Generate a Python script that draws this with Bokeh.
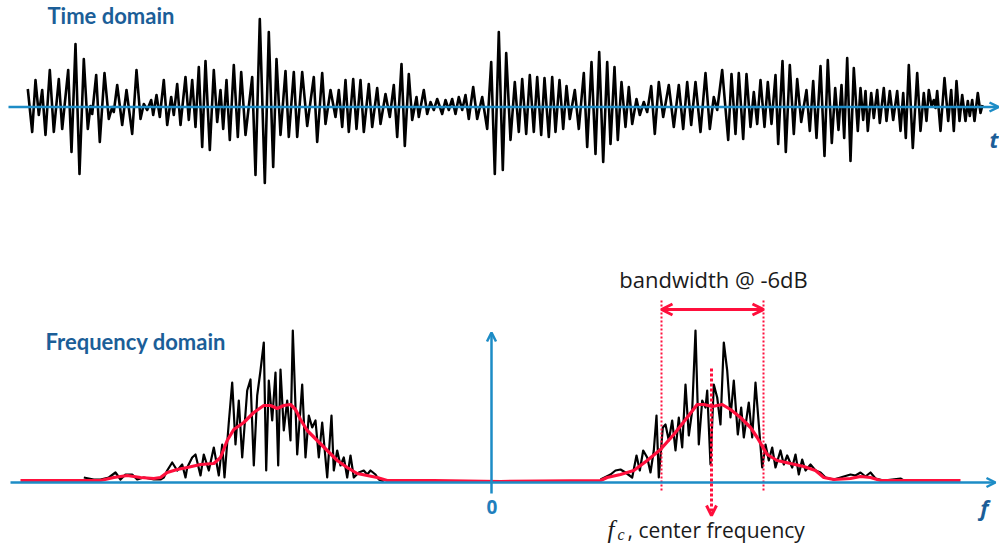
from bokeh.plotting import figure
from bokeh.layouts import column
from bokeh.models import Range1d, Arrow, OpenHead, Label
from bokeh.embed import file_html
from bokeh.resources import INLINE

# ---------------- data ----------------
# time-domain signal: successive extrema (time in a.u., amplitude in a.u.)
t_ext = [0.53, 0.97, 1.3, 1.63, 1.97, 2.3, 2.73, 3.13, 3.63, 3.97,
         4.57, 4.9, 5.3, 5.7, 6.13, 6.53, 6.8, 6.97, 7.37, 7.73,
         8.2, 8.63, 8.97, 9.13, 9.47, 9.97, 10.4, 10.97, 11.4, 11.8,
         12.13, 12.47, 12.87, 13.07, 13.4, 13.73, 14.13, 14.47, 14.87, 15.13,
         15.47, 15.8, 16.3, 16.63, 16.97, 17.3, 17.63, 17.97, 18.3, 18.73,
         19.13, 19.47, 19.8, 20.07, 20.4, 20.73, 21.13, 21.53, 21.87, 22.3,
         22.97, 23.3, 23.73, 24.23, 24.63, 25.07, 25.4, 25.8, 26.3, 26.63,
         27.13, 27.47, 27.97, 28.47, 29.13, 29.47, 29.97, 30.3, 30.8,
         31.3, 31.63, 31.97, 32.3, 32.63, 33.07, 33.4, 33.8, 34.13, 34.63,
         34.97, 35.47, 35.8, 36.3, 36.73, 37.13, 37.47, 37.9, 38.23, 38.63,
         38.97, 39.4, 39.63, 40.13, 40.47, 40.8, 41.13, 41.47, 41.97, 42.3,
         42.63, 42.97, 43.3, 43.63, 43.97, 44.3, 44.63, 45.07, 45.47, 45.97,
         46.47, 46.87, 47.23, 47.63, 48.03, 48.37, 48.8, 49.23, 49.63, 49.97,
         50.37, 50.73, 51.13, 51.47, 51.87, 52.2, 52.63, 52.97, 53.3, 53.7,
         54.07, 54.4, 54.73, 55.23, 55.63, 56.13, 56.47, 56.9, 57.3, 57.67,
         58.07, 58.47, 58.8, 59.2, 59.53, 59.9, 60.3, 60.63, 60.97, 61.4,
         61.73, 62.13, 62.47, 62.87, 63.23, 63.63, 64.07,
         64.63, 65.13, 65.63, 66.07, 66.47, 66.87, 67.3, 67.8, 68.3, 68.73,
         69.13, 69.47, 69.97, 70.57, 70.9, 71.3, 71.63, 72.07, 72.4, 72.8,
         73.13, 73.47, 73.8, 74.2, 74.53, 74.9, 75.3, 75.57, 76.0, 76.33,
         76.73, 77.13, 77.47, 77.87,
         78.4, 78.73, 79.07, 79.4, 79.8, 80.2, 80.53, 80.93, 81.27, 81.6,
         81.9, 82.17, 82.47, 82.8, 83.13, 83.53, 83.8, 84.07, 84.3, 84.53,
         84.87, 85.13, 85.47, 85.73, 86.13, 86.4, 86.73, 87.07, 87.47, 87.8,
         88.07, 88.33, 88.63, 89.03, 89.47, 89.8, 90.13, 90.4, 90.63, 90.9,
         91.13, 91.3, 91.47, 91.8, 92.2, 92.57, 92.87, 93.13, 93.4, 93.7,
         93.97, 94.3, 94.53, 94.73, 94.97, 95.2, 95.53, 95.8, 96.0]
a_ext = [18, -25, 27, -8, 17, -28, 37, -25, 28, -22,
         37, -45, 63, -67, 48, -22, 1, -7, 32, -35,
         34, -12, 0, -5, 22, -18, 17, -27, 37, -12,
         3, -3, 7, -8, 12, -10, 27, -18, 10, -8,
         23, -18, 30, -13, 27, -20, 40, -40, 46, -43,
         37, -15, 17, -22, 27, -33, 42, -30, 35, -28,
         30, -68, 88, -76, 75, -60, 48, -28, 36, -30,
         35, -30, 35, -19, 30, -35, 34, -17, 17,
         -10, 17, -20, 27, -25, 28, -22, 27, -25, 23,
         -20, 19, -17, 13, -10, 22, -30, 43, -39, 33,
         -13, 10, -10, 17, -7, 5, -3, 8, -7, 7,
         -3, 8, -7, 10, -3, 12, -12, 20, -12, 10,
         -22, 45, -67, 75, -63, 54, -33, 25, -25, 28,
         -27, 32, -25, 30, -28, 29, -30, 30, -25, 27,
         -22, 21, -12, 17, -22, 34, -40, 45, -47, 55,
         -55, 45, -37, 40, -33, 25, -20, 20, -17, 8,
         -8, 5, -5, 21, -27, 25, -10,
         22, -20, 22, -22, 25, -18, 25, -25, 34, -22,
         10, -3, 37, -33, 33, -27, 34, -32, 33, -20,
         15, -17, 27, -20, 25, -17, 32, -37, 46, -45,
         42, -27, 28, -15,
         17, -24, 26, -31, 41, -49, 47, -36, 19, -23,
         22, -31, 49, -54, 39, -24, 19, -13, 16, -24,
         14, -11, 17, -16, 19, -14, 16, -13, 16, -24,
         14, -31, 42, -41, 34, -24, 14, -14, 17, 1,
         7, -1, 16, -24, 29, -14, 17, -24, 26, -14,
         12, -14, 6, -9, 7, -14, 14, -6, 2]

# magnitude spectrum, negative-frequency lobe
f_left = [-4.077, -3.977, -3.91, -3.827, -3.76, -3.71, -3.66, -3.593, -3.543, -3.477,
          -3.377, -3.31, -3.277, -3.243, -3.193, -3.143, -3.093, -3.06, -3.043, -2.993,
          -2.96, -2.91, -2.877, -2.827, -2.777, -2.727, -2.693, -2.67, -2.627, -2.593,
          -2.56, -2.527, -2.493, -2.443, -2.41, -2.377, -2.343, -2.31, -2.277, -2.253,
          -2.227, -2.193, -2.16, -2.133, -2.11, -2.077, -2.043, -2.01, -1.987, -1.943,
          -1.893, -1.86, -1.827, -1.793, -1.76, -1.727, -1.693, -1.643, -1.6, -1.577,
          -1.543, -1.51, -1.477, -1.443, -1.41, -1.377, -1.327, -1.277, -1.243, -1.21,
          -1.16, -1.127, -1.077]
m_left = [5, 3, 3, 5, 10, 3, 8, 8, 3, 5,
          3, 3, 5, 12, 20, 12, 18, 5, 15, 25,
          28, 7, 28, 12, 35, 7, 38, 5, 60, 100,
          38, 82, 25, 92, 103, 17, 87, 112, 140, 12,
          102, 62, 110, 17, 113, 52, 82, 42, 152, 28,
          98, 25, 67, 55, 62, 25, 60, 5, 67, 12,
          32, 17, 25, 5, 27, 5, 10, 12, 8, 12,
          8, 3, 1]

# magnitude spectrum, positive-frequency lobe
f_right = [1.09, 1.19, 1.24, 1.29, 1.34, 1.407, 1.45, 1.483, 1.517, 1.557,
           1.59, 1.623, 1.65, 1.673, 1.713, 1.74, 1.773, 1.807, 1.84, 1.873,
           1.907, 1.94, 1.973, 2.007, 2.04, 2.073, 2.107, 2.14, 2.157, 2.19,
           2.223, 2.257, 2.29, 2.323, 2.357, 2.39, 2.423, 2.463, 2.497, 2.523,
           2.573, 2.607, 2.64, 2.673, 2.707, 2.74, 2.773, 2.807, 2.84, 2.89,
           2.923, 2.957, 3.007, 3.04, 3.073, 3.107, 3.14, 3.19, 3.24, 3.29,
           3.34, 3.423, 3.49, 3.59, 3.64, 3.69, 3.74, 3.79, 3.84, 3.923,
           4.09, 4.123]
m_right = [3, 8, 12, 13, 10, 5, 27, 12, 32, 25,
           10, 32, 67, 5, 55, 58, 42, 62, 32, 65,
           35, 98, 47, 72, 152, 38, 82, 75, 92, 18,
           98, 85, 58, 140, 112, 65, 102, 48, 75, 45,
           80, 45, 100, 58, 15, 38, 22, 35, 15, 32,
           18, 27, 15, 28, 8, 23, 12, 18, 12, 10,
           5, 3, 5, 8, 7, 10, 6, 10, 4, 2,
           4, 2]

# smoothed spectrum (red)
f_env = [-4.71, -4.077, -3.91, -3.777, -3.643, -3.51, -3.377, -3.31, -3.243, -3.143,
         -3.043, -2.91, -2.777, -2.71, -2.643, -2.577, -2.477, -2.377, -2.277, -2.21,
         -2.143, -2.077, -2.01, -1.96, -1.91, -1.843, -1.743, -1.643, -1.543, -1.443,
         -1.343, -1.243, -1.143, -1.043, -0.91, -0.577, 0.09,
         1.09, 1.157, 1.29, 1.423, 1.557, 1.69, 1.823, 1.957, 2.057, 2.123,
         2.207, 2.307, 2.39, 2.49, 2.59, 2.657, 2.757, 2.857, 2.99, 3.123,
         3.24, 3.323, 3.423, 3.59, 3.69, 3.79, 3.89, 4.09, 4.69]
m_env = [2, 2, 2, 5, 7, 5, 4, 5, 10, 13,
         15, 18, 19, 25, 42, 53, 60, 70, 77, 77,
         74, 77, 78, 73, 63, 52, 42, 32, 22, 15,
         9, 7, 5, 2, 2, 2, 1,
         2, 5, 8, 12, 22, 33, 48, 65, 78, 78,
         76, 78, 73, 65, 55, 45, 28, 22, 19, 16,
         12, 5, 3, 4, 6, 5, 2, 2, 2]

bw_low, bw_high = 1.70, 2.72   # -6 dB band edges
fc = 2.20                      # centre frequency

AX = "#1d8cc6"
TITLE = "#1b5e98"
RED = "#ff0f3c"
INK = "#1a1a1a"

# ---------------- time domain ----------------
p1 = figure(width=999, height=208, x_range=Range1d(-2.2, 97.7), y_range=Range1d(-101.5, 106.5),
            output_backend="svg", toolbar_location=None, min_border=0)
p1.axis.visible = False
p1.grid.visible = False
p1.outline_line_color = None

p1.line(t_ext, a_ext, line_color="black", line_width=2.6, line_join="round")
p1.add_layout(Arrow(x_start=-1.4, y_start=0, x_end=97.6, y_end=0, line_color=AX, line_width=2.5,
                    end=OpenHead(size=9, line_color=AX, line_width=2.5)))
p1.add_layout(Label(x=2.5, y=91.5, text="Time domain", text_font="Lato", text_font_style="bold",
                    text_font_size="22px", text_color=TITLE, text_baseline="alphabetic"))
p1.add_layout(Label(x=97.6, y=-31.5, text="t", text_font="Open Sans", text_font_style="bold italic",
                    text_font_size="22px", text_color=TITLE, text_baseline="alphabetic", text_align="right"))

# ---------------- frequency domain ----------------
p2 = figure(width=999, height=341, x_range=Range1d(-4.91, 5.08), y_range=Range1d(-67, 274),
            output_backend="svg", toolbar_location=None, min_border=0)
p2.axis.visible = False
p2.grid.visible = False
p2.outline_line_color = None

p2.line(f_left, m_left, line_color="black", line_width=2.2, line_join="round")
p2.line(f_right, m_right, line_color="black", line_width=2.2, line_join="round")
p2.line(f_env, m_env, line_color=RED, line_width=3.2, line_join="round")

p2.add_layout(Arrow(x_start=-4.81, y_start=0, x_end=5.04, y_end=0, line_color=AX, line_width=2.5,
                    end=OpenHead(size=9, line_color=AX, line_width=2.5)))
p2.add_layout(Arrow(x_start=0, y_start=-11, x_end=0, y_end=150, line_color=AX, line_width=2.5,
                    end=OpenHead(size=9, line_color=AX, line_width=2.5)))

p2.segment(x0=[bw_low, bw_high], y0=[-8, -8], x1=[bw_low, bw_high], y1=[184, 184],
           line_color=RED, line_width=2, line_dash="2 2")
p2.add_layout(Arrow(x_start=bw_low, y_start=173, x_end=bw_high, y_end=173, line_color=RED, line_width=3,
                    start=OpenHead(size=11, line_color=RED, line_width=3),
                    end=OpenHead(size=11, line_color=RED, line_width=3)))
p2.add_layout(Arrow(x_start=fc, y_start=114, x_end=fc, y_end=-33, line_color=RED, line_width=3,
                    line_dash="3 2", end=OpenHead(size=10, line_color=RED, line_width=3)))

p2.add_layout(Label(x=-4.46, y=141, text="Frequency domain", text_font="Lato", text_font_style="bold",
                    text_font_size="22px", text_color=TITLE, text_baseline="alphabetic"))
p2.add_layout(Label(x=0.005, y=-24, text="0", text_font="Open Sans", text_font_style="bold",
                    text_font_size="19px", text_color="#1f7fbd", text_baseline="alphabetic", text_align="center"))
p2.add_layout(Label(x=4.97, y=-24, text="f", text_font="Open Sans", text_font_style="bold italic",
                    text_font_size="22px", text_color=TITLE, text_baseline="alphabetic", text_align="right"))
p2.add_layout(Label(x=2.22, y=204, text="bandwidth @ -6dB", text_font="Open Sans",
                    text_font_size="22px", text_color=INK, text_baseline="alphabetic", text_align="center"))
p2.add_layout(Label(x=1.16, y=-47, text="f", text_font="Liberation Serif", text_font_style="italic",
                    text_font_size="25px", text_color=INK, text_baseline="alphabetic"))
p2.add_layout(Label(x=1.26, y=-52, text="c", text_font="Liberation Serif", text_font_style="italic",
                    text_font_size="16px", text_color=INK, text_baseline="alphabetic"))
p2.add_layout(Label(x=1.36, y=-47, text=", center frequency", text_font="Open Sans",
                    text_font_size="21px", text_color=INK, text_baseline="alphabetic"))

layout = column(p1, p2, spacing=0)
open("out.html", "w").write(file_html(layout, INLINE))
